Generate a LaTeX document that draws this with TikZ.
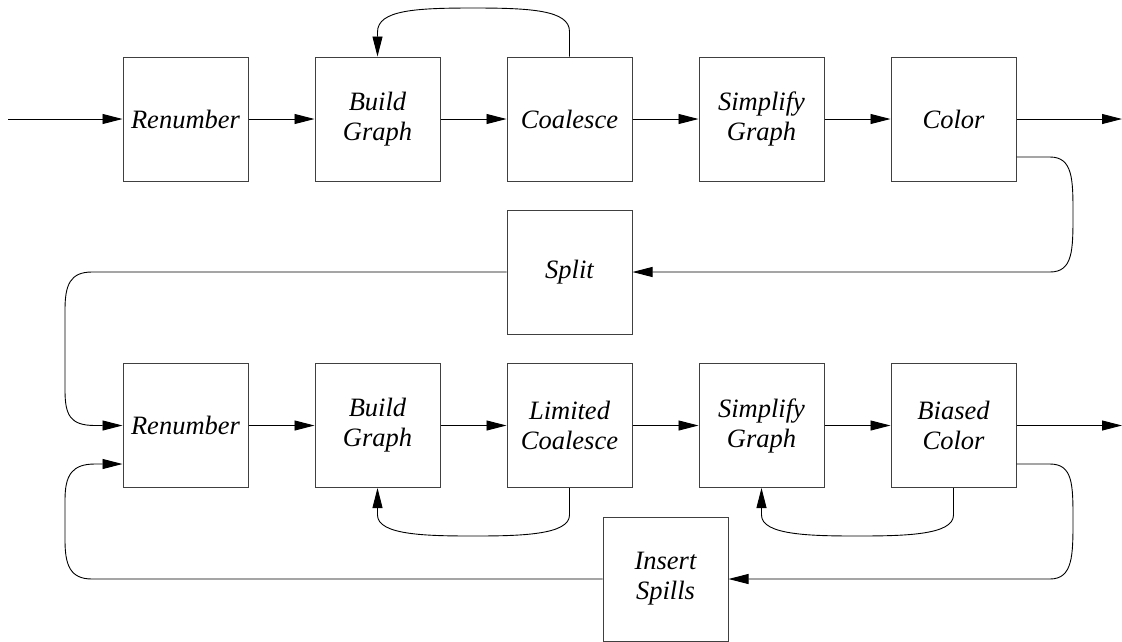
\documentclass[tikz,border=0pt]{standalone}
\usepackage{fontspec}
\setmainfont{Liberation Serif}
\usetikzlibrary{arrows.meta}
\begin{document}
\begin{tikzpicture}[x=1pt,y=-1pt,
  blk/.style={draw=black!75, line width=1pt, minimum width=125pt, minimum height=124pt, inner sep=0pt, align=center, font=\fontsize{26.5}{30}\selectfont\itshape},
  conn/.style={line width=0.9pt, -{Triangle[length=20pt,width=10pt]}}]
\useasboundingbox (0,0) rectangle (1122,641);
% top row
\node[blk] (r1) at (185.5,119) {Renumber};
\node[blk] (b1) at (377.5,119) {Build\\Graph};
\node[blk] (c1) at (569.5,119) {Coalesce};
\node[blk] (s1) at (761.5,119) {Simplify\\Graph};
\node[blk] (k1) at (953.5,119) {Color};
% split
\node[blk] (sp) at (569.5,272) {Split};
% bottom row
\node[blk] (r2) at (185.5,425.5) {Renumber};
\node[blk] (b2) at (377.5,425.5) {Build\\Graph};
\node[blk] (lc) at (569.5,425.5) {Limited\\Coalesce};
\node[blk] (s2) at (761.5,425.5) {Simplify\\Graph};
\node[blk] (k2) at (953.5,425.5) {Biased\\Color};
% insert spills
\node[blk] (is) at (665.5,579) {Insert\\Spills};
% free ends
\coordinate (in) at (8,119);
\coordinate (out1) at (1122,119);
\coordinate (out2) at (1122,425.5);
% top row arrows
\draw[conn] (in) -- (r1);
\draw[conn] (r1) -- (b1);
\draw[conn] (b1) -- (c1);
\draw[conn] (c1) -- (s1);
\draw[conn] (s1) -- (k1);
\draw[conn] (k1) -- (out1);
% coalesce loop back
\draw[conn] (c1.north) -- ++(0,-25) .. controls (569.5,10) and (530,8) .. (473,8)
  .. controls (416,8) and (377.5,10) .. (377.5,32) -- (b1.north);
% color to split
\draw[conn] ([yshift=-38pt]k1.east) -- (1050,157) .. controls (1073,157) and (1073,180) .. (1073,214)
  .. controls (1073,250) and (1073,272) .. (1050,272) -- (sp.east);
% split to renumber
\draw[conn] (sp.west) -- (92,272) .. controls (70,272) and (65,285) .. (65,310) -- (65,390)
  .. controls (65,415) and (70,425.5) .. (95,425.5) -- (r2.west);
% bottom row arrows
\draw[conn] (r2) -- (b2);
\draw[conn] (b2) -- (lc);
\draw[conn] (lc) -- (s2);
\draw[conn] (s2) -- (k2);
\draw[conn] (k2) -- (out2);
% limited coalesce loop
\draw[conn] (lc.south) -- ++(0,27) .. controls (569.5,535) and (520,536) .. (473,536)
  .. controls (426,536) and (377.5,535) .. (377.5,515) -- (b2.south);
% biased color loop
\draw[conn] (k2.south) -- ++(0,27) .. controls (953.5,535) and (905,536) .. (857,536)
  .. controls (810,536) and (761.5,535) .. (761.5,515) -- (s2.south);
% biased color to insert spills
\draw[conn] ([yshift=-38.5pt]k2.east) -- (1050,464) .. controls (1073,464) and (1073,485) .. (1073,520)
  .. controls (1073,555) and (1073,579) .. (1050,579) -- (is.east);
% insert spills to renumber
\draw[conn] (is.west) -- (92,579) .. controls (70,579) and (65,565) .. (65,540) -- (65,500)
  .. controls (65,475) and (72,464) .. (95,464) -- ([yshift=-38.5pt]r2.west);
\end{tikzpicture}
\end{document}
